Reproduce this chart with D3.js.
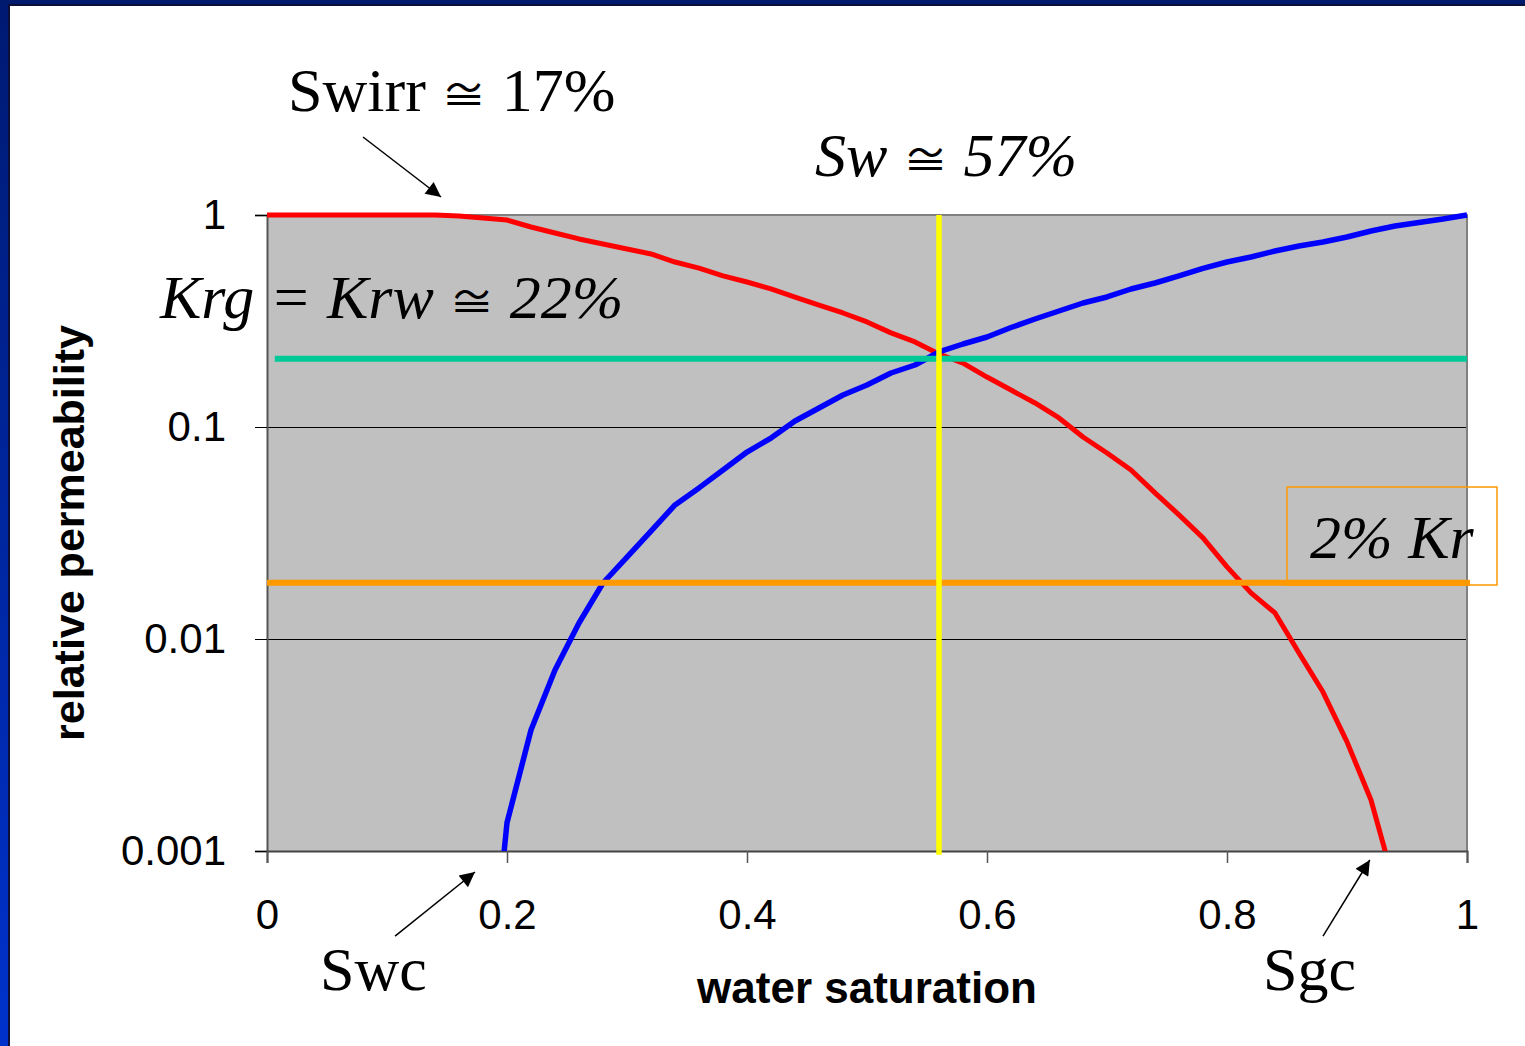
<!DOCTYPE html>
<html>
<head>
<meta charset="utf-8">
<script src="https://cdn.jsdelivr.net/npm/d3@7"></script>
<style>
  html, body { margin: 0; padding: 0; background: #ffffff; }
  svg { display: block; }
</style>
</head>
<body>
<svg id="chart" width="1525" height="1046"></svg>
<script>
// ---------------- data ----------------
const saturation = [0,0.02,0.04,0.06,0.08,0.10,0.12,0.14,0.16,0.18,0.20,0.22,0.24,0.26,0.28,0.30,0.32,0.34,0.36,0.38,0.40,0.42,0.44,0.46,0.48,0.50,0.52,0.54,0.56,0.58,0.60,0.62,0.64,0.66,0.68,0.70,0.72,0.74,0.76,0.78,0.80,0.82,0.84,0.86,0.88,0.90,0.92,0.94,0.96,0.98,1.00];
// gas relative permeability (red)
const krg = [1,1,1,1,1,1,1,1,0.989,0.968,0.947,0.878,0.822,0.771,0.730,0.691,0.655,0.600,0.562,0.516,0.483,0.448,0.410,0.376,0.345,0.313,0.278,0.252,0.221,0.200,0.172,0.1494,0.1298,0.1103,0.0897,0.0754,0.0627,0.0489,0.0385,0.0300,0.0219,0.0165,0.01327,0.00859,0.00562,0.00327,0.00174,0.00068,null,null,null];
// water relative permeability (blue)
const krw = [null,null,null,null,null,null,null,null,null,0.0001,0.00136,0.00372,0.00714,0.0119,0.01837,0.02436,0.0323,0.0429,0.0516,0.0627,0.0762,0.0887,0.1067,0.1229,0.1416,0.1578,0.1798,0.1961,0.2259,0.2463,0.2658,0.2946,0.3231,0.3525,0.3845,0.4105,0.4477,0.4778,0.5157,0.5595,0.6003,0.6337,0.6764,0.7141,0.7457,0.7873,0.8407,0.8874,0.9217,0.9575,1];
const crossoverKr = 0.21;     // Krg = Krw line
const cutoffKr = 0.0184;      // 2% Kr line
const crossoverSw = 0.56;     // Sw line
const xTicks = [0, 0.2, 0.4, 0.6, 0.8, 1];
const xTickLabels = ["0", "0.2", "0.4", "0.6", "0.8", "1"];
const yTicks = [0.001, 0.01, 0.1, 1];
const yTickLabels = ["0.001", "0.01", "0.1", "1"];
const xTitle = "water saturation";
const yTitle = "relative permeability";

// ---------------- layout ----------------
const svg = d3.select("#chart");
const W = 1525, H = 1046;
const L = 267, R = 1467, T = 215, B = 851;
const x = d3.scaleLinear().domain([0, 1]).range([L, R]);
const y = d3.scaleLog().domain([0.001, 1]).range([B, T]);

const SANS = "'Liberation Sans', Arial, sans-serif";
const SERIF = "'Liberation Serif', 'Times New Roman', serif";
const SYM = "'Noto Sans CJK JP', 'DejaVu Serif', serif";

// slide frame (blue strip left and top)
const defs = svg.append("defs");
const grad = defs.append("linearGradient").attr("id", "side").attr("x1", 0).attr("y1", 0).attr("x2", 0).attr("y2", 1);
grad.append("stop").attr("offset", "0%").attr("stop-color", "#001a72");
grad.append("stop").attr("offset", "100%").attr("stop-color", "#0032cc");
svg.append("rect").attr("x", 0).attr("y", 0).attr("width", 9).attr("height", H).attr("fill", "url(#side)");
svg.append("rect").attr("x", 0).attr("y", 0).attr("width", W).attr("height", 5).attr("fill", "#001a6e");
svg.append("rect").attr("x", 8).attr("y", 5).attr("width", 2).attr("height", H).attr("fill", "#0b0f3a");
svg.append("rect").attr("x", 8).attr("y", 4).attr("width", W).attr("height", 2).attr("fill", "#0b0f3a");

// plot background
svg.append("rect").attr("x", L).attr("y", T).attr("width", R - L).attr("height", B - T).attr("fill", "#c0c0c0");

// gridlines
svg.append("g").selectAll("line").data([0.01, 0.1]).join("line")
  .attr("x1", L).attr("x2", R).attr("y1", d => Math.round(y(d)) + 0.5).attr("y2", d => Math.round(y(d)) + 0.5)
  .attr("stroke", "#000").attr("stroke-width", 1);

// frame top & right
svg.append("line").attr("x1", L).attr("x2", R + 1).attr("y1", T).attr("y2", T).attr("stroke", "#808080").attr("stroke-width", 2);
svg.append("line").attr("x1", R).attr("x2", R).attr("y1", T).attr("y2", B).attr("stroke", "#808080").attr("stroke-width", 2);

// axes
const yAxis = d3.axisLeft(y).tickValues(yTicks).tickFormat((d, i) => yTickLabels[i]).tickSize(12).tickPadding(29);
const gy = svg.append("g").attr("transform", `translate(${L},0)`).call(yAxis);
gy.select(".domain").attr("stroke", "#555").attr("stroke-width", 2);
gy.selectAll(".tick line").attr("stroke", "#000").attr("stroke-width", 1);
gy.selectAll(".tick text").attr("font-family", SANS).attr("font-size", 42).attr("fill", "#000");

const xAxis = d3.axisBottom(x).tickValues(xTicks).tickFormat((d, i) => xTickLabels[i]).tickSize(12).tickPadding(36);
const gx = svg.append("g").attr("transform", `translate(0,${B})`).call(xAxis);
gx.select(".domain").attr("stroke", "#444").attr("stroke-width", 2);
gx.selectAll(".tick line").attr("stroke", "#555").attr("stroke-width", 1.5);
gx.selectAll(".tick text").attr("font-family", SANS).attr("font-size", 42).attr("fill", "#000");

// axis titles
svg.append("text").attr("x", (L + R) / 2).attr("y", 1003).attr("text-anchor", "middle")
  .attr("font-family", SANS).attr("font-weight", "bold").attr("font-size", 44).text(xTitle);
svg.append("text").attr("transform", `translate(84,${(T + B) / 2}) rotate(-90)`).attr("text-anchor", "middle")
  .attr("font-family", SANS).attr("font-weight", "bold").attr("font-size", 43).text(yTitle);

// curves (clipped to plot)
defs.append("clipPath").attr("id", "plotclip").append("rect")
  .attr("x", L - 2).attr("y", T - 6).attr("width", R - L + 6).attr("height", B - T + 6);
const curves = svg.append("g").attr("clip-path", "url(#plotclip)");
const line = d3.line().defined(d => d[1] != null).x(d => x(d[0])).y(d => y(d[1]));
curves.append("path").datum(saturation.map((s, i) => [s, krg[i]]))
  .attr("d", line).attr("fill", "none").attr("stroke", "#ff0000").attr("stroke-width", 5).attr("stroke-linejoin", "round");
curves.append("path").datum(saturation.map((s, i) => [s, krw[i]]))
  .attr("d", line).attr("fill", "none").attr("stroke", "#0000ff").attr("stroke-width", 5.5).attr("stroke-linejoin", "round");

// reference lines
svg.append("line").attr("x1", x(0.0065)).attr("x2", x(1)).attr("y1", y(crossoverKr)).attr("y2", y(crossoverKr))
  .attr("stroke", "#00c896").attr("stroke-width", 6);
svg.append("line").attr("x1", x(0)).attr("x2", x(1.0025)).attr("y1", y(cutoffKr)).attr("y2", y(cutoffKr))
  .attr("stroke", "#ff9900").attr("stroke-width", 6);
svg.append("line").attr("x1", x(crossoverSw)).attr("x2", x(crossoverSw)).attr("y1", y(1)).attr("y2", y(0.00096))
  .attr("stroke", "#ffff00").attr("stroke-width", 5.5);

// annotation box
svg.append("rect").attr("x", x(0.85)).attr("y", y(0.0521)).attr("width", x(1.025) - x(0.85)).attr("height", y(0.01798) - y(0.0521))
  .attr("fill", "none").attr("stroke", "#ff9900").attr("stroke-width", 1.5);

// arrows
defs.append("marker").attr("id", "arrow").attr("viewBox", "0 0 10 10").attr("refX", 10).attr("refY", 5)
  .attr("markerWidth", 18).attr("markerHeight", 15).attr("markerUnits", "userSpaceOnUse")
  .attr("orient", "auto").append("path").attr("d", "M0,0 L10,5 L0,10 z").attr("fill", "#000");
const arrows = [
  [[0.08, 2.333], [0.145, 1.216]],
  [[0.1067, 0.000397], [0.1733, 0.000796]],
  [[0.88, 0.000397], [0.919, 0.000907]]
];
svg.append("g").selectAll("line").data(arrows).join("line")
  .attr("x1", d => x(d[0][0])).attr("y1", d => y(d[0][1]))
  .attr("x2", d => x(d[1][0])).attr("y2", d => y(d[1][1]))
  .attr("stroke", "#000").attr("stroke-width", 1.5).attr("marker-end", "url(#arrow)");

// annotation texts (parts: [text, isSymbol])
const notes = [
  { parts: [["Swirr ", 0], ["\u2245", 1], [" 17%", 0]], sx: 0.0175, ky: 3.095, it: false },
  { parts: [["Sw ", 0], ["\u2245", 1], [" 57%", 0]], sx: 0.4567, ky: 1.527, it: true },
  { parts: [["Krg = Krw ", 0], ["\u2245", 1], [" 22%", 0]], sx: -0.0892, ky: 0.3267, it: true },
  { parts: [["2% Kr", 0]], sx: 0.8692, ky: 0.0241, it: true },
  { parts: [["Swc", 0]], sx: 0.0442, ky: 0.000221, it: false },
  { parts: [["Sgc", 0]], sx: 0.83, ky: 0.000221, it: false }
];
const nt = svg.append("g").selectAll("text").data(notes).join("text")
  .attr("x", d => x(d.sx)).attr("y", d => y(d.ky))
  .attr("font-family", SERIF).attr("font-size", 62)
  .attr("font-style", d => d.it ? "italic" : "normal")
  .attr("fill", "#000");
nt.selectAll("tspan").data(d => d.parts).join("tspan")
  .attr("font-family", p => p[1] ? SYM : SERIF)
  .attr("font-style", p => p[1] ? "normal" : null)
  .attr("font-size", p => p[1] ? 45 : null)
  .text(p => p[0]);
</script>
</body>
</html>
